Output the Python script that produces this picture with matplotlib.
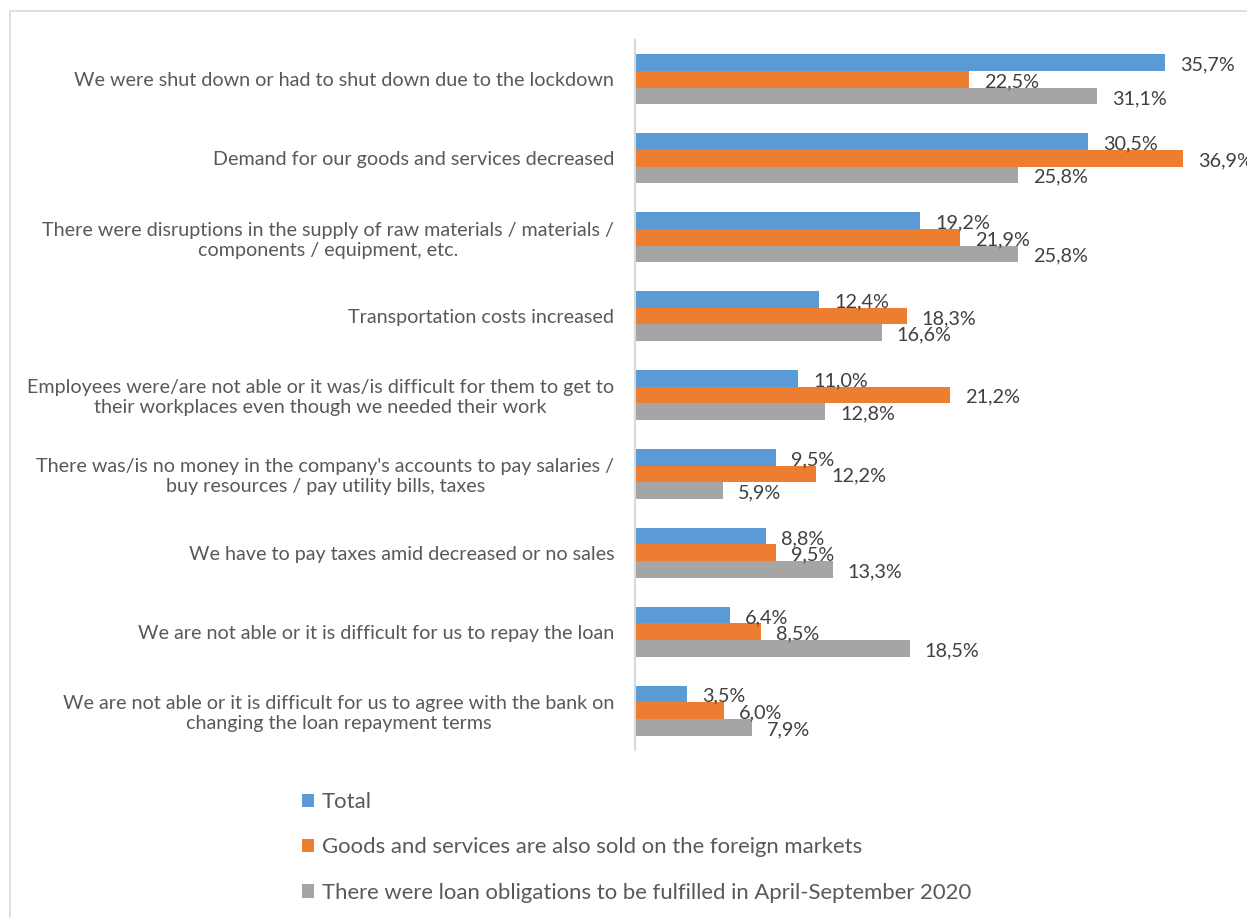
import matplotlib.pyplot as plt
from matplotlib.patches import Rectangle
import numpy as np

plt.rcParams['font.family'] = ['Lato', 'DejaVu Sans']

categories = [
    "We were shut down or had to shut down due to the lockdown",
    "Demand for our goods and services decreased",
    "There were disruptions in the supply of raw materials / materials /\ncomponents / equipment, etc.",
    "Transportation costs increased",
    "Employees were/are not able or it was/is difficult for them to get to\ntheir workplaces even though we needed their work",
    "There was/is no money in the company's accounts to pay salaries /\nbuy resources / pay utility bills, taxes",
    "We have to pay taxes amid decreased or no sales",
    "We are not able or it is difficult for us to repay the loan",
    "We are not able or it is difficult for us to agree with the bank on\nchanging the loan repayment terms",
]

series_names = [
    "Total",
    "Goods and services are also sold on the foreign markets",
    "There were loan obligations to be fulfilled in April-September 2020",
]

total = [35.7, 30.5, 19.2, 12.4, 11.0, 9.5, 8.8, 6.4, 3.5]
foreign = [22.5, 36.9, 21.9, 18.3, 21.2, 12.2, 9.5, 8.5, 6.0]
loans = [31.1, 25.8, 25.8, 16.6, 12.8, 5.9, 13.3, 18.5, 7.9]

colors = ["#5B9BD5", "#ED7D31", "#A5A5A5"]
text_color = "#595959"

fig = plt.figure(figsize=(12.47, 9.18), dpi=100)
fig.patch.set_facecolor("white")

# thin frame around the chart area
fig.add_artist(Rectangle((10 / 1247, -0.1), 1.2, 1 - 11 / 918 + 0.1,
                         transform=fig.transFigure, fill=False,
                         edgecolor="#D9D9D9", linewidth=1.2))

ax = fig.add_axes([635 / 1247, 1 - 750 / 918, 40 * 14.85 / 1247, 710 / 918])

y = np.arange(len(categories))
h = 0.211
for k, (vals, col) in enumerate(zip([total, foreign, loans], colors)):
    pos = y + (k - 1) * h
    ax.barh(pos, vals, height=h, color=col, label=series_names[k])
    for p, v in zip(pos, vals):
        ax.text(v + 1.0, p + 0.03, f"{v:.1f}%".replace(".", ","),
                va="center", ha="left", fontsize=14.3, color="#404040")

ax.set_xlim(0, 40)
ax.set_ylim(len(categories) - 0.5, -0.5)
ax.set_yticks(y)
ax.set_yticklabels(categories, fontsize=14.2, color=text_color,
                   multialignment="center")
ax.tick_params(axis="y", length=0, pad=15)
ax.set_xticks([])
for s in ["top", "right", "bottom"]:
    ax.spines[s].set_visible(False)
ax.spines["left"].set_color("#D9D9D9")
ax.spines["left"].set_linewidth(1.5)

handles, labels = ax.get_legend_handles_labels()
leg = fig.legend(handles, labels, loc="upper left",
                 bbox_to_anchor=(302 / 1247, 1 - 792 / 918),
                 frameon=False, fontsize=15.9, labelcolor=text_color,
                 handlelength=0.55, handleheight=0.55, handletextpad=0.35,
                 labelspacing=1.15, borderpad=0, borderaxespad=0)

fig.savefig("out.png", dpi=100)
